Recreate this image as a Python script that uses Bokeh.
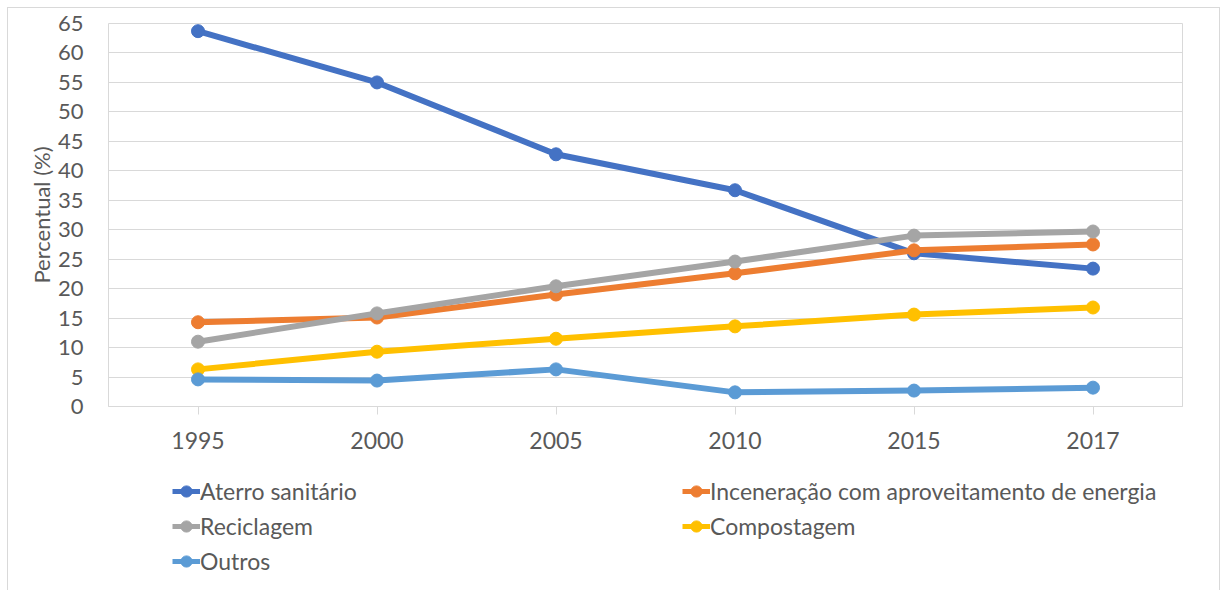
from bokeh.plotting import figure
from bokeh.layouts import column
from bokeh.models import Legend, LegendItem, FactorRange, Range1d, SingleIntervalTicker
from bokeh.embed import file_html
from bokeh.resources import INLINE

# Destinação dos resíduos (%), por ano
anos = ["1995", "2000", "2005", "2010", "2015", "2017"]
aterro = [63.7, 55.0, 42.8, 36.7, 26.0, 23.4]
incineracao = [14.3, 15.1, 19.0, 22.6, 26.5, 27.5]
reciclagem = [11.0, 15.8, 20.4, 24.6, 29.0, 29.7]
compostagem = [6.3, 9.3, 11.5, 13.6, 15.6, 16.8]
outros = [4.6, 4.4, 6.3, 2.4, 2.7, 3.2]

nomes = ["Aterro sanitário", "Inceneração com aproveitamento de energia",
         "Reciclagem", "Compostagem", "Outros"]
series = [aterro, incineracao, reciclagem, compostagem, outros]
cores = ["#4472C4", "#ED7D31", "#A5A5A5", "#FFC000", "#5B9BD5"]

FONT = "Lato"
TXT = "#595959"
GRID = "#d9d9d9"
W = 1211

# --- line chart ---
p = figure(
    width=W, height=455,
    x_range=FactorRange(*anos, range_padding=0),
    y_range=Range1d(0, 65),
    output_backend="svg", toolbar_location=None,
    min_border_left=100, min_border_right=37,
    min_border_top=15, min_border_bottom=57,
)
p.outline_line_color = GRID
p.outline_line_width = 1

p.xgrid.grid_line_color = None
p.ygrid.grid_line_color = GRID
p.ygrid.grid_line_width = 1

p.yaxis.ticker = SingleIntervalTicker(interval=5)
p.yaxis.axis_line_color = None
p.yaxis.major_tick_line_color = None
p.yaxis.minor_tick_line_color = None
p.yaxis.major_label_standoff = 19
p.yaxis.axis_label = "Percentual (%)"
p.yaxis.axis_label_standoff = 0
p.yaxis.axis_label_text_font_style = "normal"
p.yaxis.major_label_text_font_size = "22px"
p.yaxis.axis_label_text_font_size = "22px"

p.xaxis.axis_line_color = GRID
p.xaxis.major_tick_line_color = GRID
p.xaxis.major_tick_in = 0
p.xaxis.major_tick_out = 8
p.xaxis.major_label_standoff = 17
p.xaxis.major_label_text_font_size = "23px"

for ax in (p.xaxis, p.yaxis):
    ax.major_label_text_font = FONT
    ax.major_label_text_color = TXT
    ax.axis_label_text_font = FONT
    ax.axis_label_text_color = TXT

for vals, cor in zip(series, cores):
    p.line(anos, vals, line_width=6, line_color=cor, line_join="round", line_cap="round")
    p.scatter(anos, vals, size=13, marker="circle", fill_color=cor, line_color=cor)

# --- legend strip under the chart (its frame lines up with the chart's frame) ---
leg = figure(
    width=W, height=127,
    x_range=Range1d(0, 1), y_range=Range1d(0, 1),
    x_axis_type=None, y_axis_type=None,
    output_backend="svg", toolbar_location=None,
    min_border_left=0, min_border_right=0, min_border_top=0, min_border_bottom=0,
)
leg.outline_line_color = None
leg.grid.visible = False

items = []
for nome, cor in zip(nomes, cores):
    # key glyphs only; the single point lies outside the strip's visible range
    ln = leg.line(x=[5, 6], y=[5, 5], line_width=5, line_color=cor)
    mk = leg.scatter(x=[5], y=[5], size=11, marker="circle", fill_color=cor, line_color=cor)
    items.append(LegendItem(label=nome, renderers=[ln, mk]))


def make_legend(its, loc):
    lg = Legend(items=its, location=loc, orientation="vertical")
    lg.border_line_color = None
    lg.background_fill_alpha = 0
    lg.padding = 0
    lg.margin = 0
    lg.spacing = 5
    lg.label_standoff = 0
    lg.glyph_width = 28
    lg.glyph_height = 30
    lg.label_height = 30
    lg.label_text_font = FONT
    lg.label_text_font_size = "23px"
    lg.label_text_color = TXT
    return lg


leg.add_layout(make_legend([items[0], items[2], items[4]], (64, 14)))
leg.add_layout(make_legend([items[1], items[3]], (574, 49)))

layout = column(p, leg, spacing=0, margin=(8, 0, 0, 8))
layout.styles = {"outline": "1px solid #d9d9d9"}

open("out.html", "w").write(file_html(layout, INLINE))
